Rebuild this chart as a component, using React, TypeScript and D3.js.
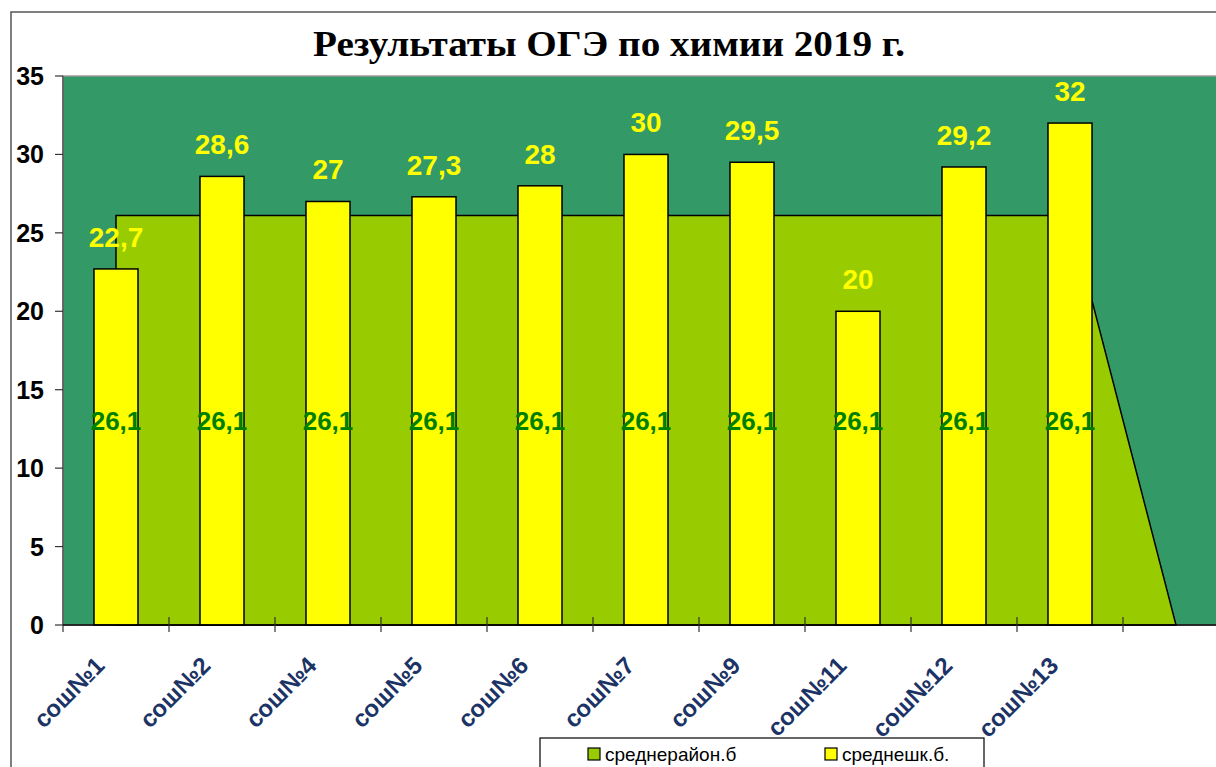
import React from "react";
import * as d3 from "d3";

const categories = ["сош№1", "сош№2", "сош№4", "сош№5", "сош№6", "сош№7", "сош№9", "сош№11", "сош№12", "сош№13", ""];
const schoolValues = [22.7, 28.6, 27, 27.3, 28, 30, 29.5, 20, 29.2, 32, null];
const districtValues = [26.1, 26.1, 26.1, 26.1, 26.1, 26.1, 26.1, 26.1, 26.1, 26.1, 0];
const yTicks = [0, 5, 10, 15, 20, 25, 30, 35];
const seriesNames = ["среднерайон.б", "среднешк.б."];
const title = "Результаты ОГЭ по химии 2019 г.";

const fmt = (v: number) => String(v).replace(".", ",");

export default function App() {
  const left = 63, top = 76, bottom = 625, band = 106;
  const x = d3.scaleBand<string>().domain(categories.map((c, i) => c + "#" + i)).range([left, left + band * categories.length]).padding(0);
  const y = d3.scaleLinear().domain([0, 35]).range([bottom, top]);
  const key = (i: number) => categories[i] + "#" + i;
  const cx = (i: number) => (x(key(i)) as number) + x.bandwidth() / 2;
  const barW = 44;
  const plotRight = left + band * categories.length;

  const areaGen = d3.area<number>().x((_, i) => cx(i)).y0(y(0)).y1((d) => y(d));
  const areaPath = areaGen(districtValues) as string;

  const font = "Arial, 'Liberation Sans', sans-serif";

  return (
    <svg width={1216} height={767} style={{ position: "absolute", left: 0, top: 0, background: "#fff" }}>
      <rect x={0} y={0} width={1216} height={767} fill="#fff" />
      <rect x={11} y={12} width={1300} height={900} fill="#fff" stroke="#555" strokeWidth={1.5} />
      <text x={609} y={56} textAnchor="middle" fontFamily="'Liberation Serif', 'Times New Roman', serif" fontWeight="bold" fontSize={35} textLength={592} lengthAdjust="spacingAndGlyphs" fill="#000">{title}</text>
      <rect x={left} y={top} width={plotRight - left} height={bottom - top} fill="#339966" stroke="#999" strokeWidth={1.5} />
      <path d={areaPath} fill="#99CC00" stroke="#000" strokeWidth={1.5} />
      {schoolValues.map((v, i) => v == null ? null : (
        <rect key={i} x={cx(i) - barW / 2} y={y(v)} width={barW} height={y(0) - y(v)} fill="#FFFF00" stroke="#000" strokeWidth={1.5} />
      ))}
      {schoolValues.map((v, i) => v == null ? null : (
        <text key={"l" + i} x={cx(i)} y={y(v) - 22} textAnchor="middle" fontFamily={font} fontWeight="bold" fontSize={28} fill="#FFFF00">{fmt(v)}</text>
      ))}
      {districtValues.map((v, i) => v === 0 ? null : (
        <text key={"d" + i} x={cx(i)} y={y(v / 2) + 10} textAnchor="middle" fontFamily={font} fontWeight="bold" fontSize={26} fill="#008000">{fmt(v)}</text>
      ))}
      <line x1={left} y1={top} x2={left} y2={bottom} stroke="#555" strokeWidth={1.5} />
      <line x1={left} y1={bottom} x2={plotRight} y2={bottom} stroke="#000" strokeWidth={1.5} />
      {yTicks.map((t) => (
        <g key={t}>
          <line x1={55} x2={left} y1={y(t)} y2={y(t)} stroke="#333" strokeWidth={1.2} />
          <text x={44} y={y(t) + 9} textAnchor="end" fontFamily={font} fontWeight="bold" fontSize={25} fill="#000">{t}</text>
        </g>
      ))}
      {d3.range(categories.length + 1).map((i) => (
        <line key={"t" + i} x1={left + i * band} x2={left + i * band} y1={i === 0 ? bottom : 617} y2={632} stroke="#333" strokeWidth={1.2} />
      ))}
      {categories.map((c, i) => c === "" ? null : (
        <text key={"x" + i} transform={`translate(${cx(i) - 10},${667}) rotate(-45)`} textAnchor="end" fontFamily={font} fontWeight="bold" fontSize={24} fill="#1c3366">{c}</text>
      ))}
      <rect x={540} y={738} width={444} height={60} fill="#fff" stroke="#000" strokeWidth={1.2} />
      <rect x={588} y={748} width={12} height={12} fill="#99CC00" stroke="#000" strokeWidth={1.2} />
      <text x={605} y={761} fontFamily={font} fontSize={19} fill="#000">{seriesNames[0]}</text>
      <rect x={825} y={748} width={12} height={12} fill="#FFFF00" stroke="#000" strokeWidth={1.2} />
      <text x={842} y={761} fontFamily={font} fontSize={19} fill="#000">{seriesNames[1]}</text>
    </svg>
  );
}
